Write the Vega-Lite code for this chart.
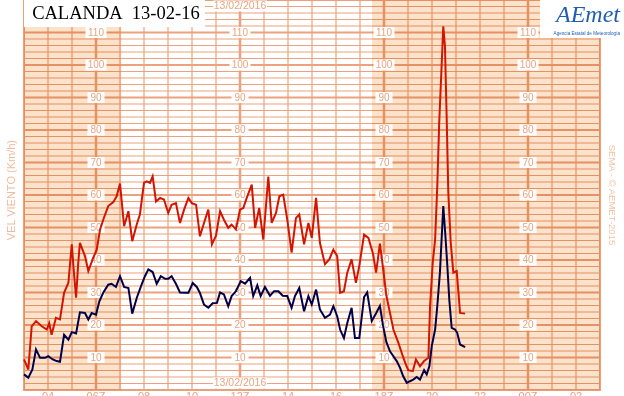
{
  "$schema": "https://vega.github.io/schema/vega-lite/v6.json",
  "width": 576,
  "height": 390,
  "autosize": "none",
  "padding": {"left": 24, "top": 0, "right": 24, "bottom": 6},
  "background": "white",
  "config": {
    "view": {"stroke": "#e89e78", "strokeWidth": 2},
    "axis": {"disable": true},
    "font": "Liberation Sans"
  },
  "datasets": {
    "wind": [
      {"h":3.00,"v":9.4,"s":"r"},{"h":3.18,"v":6.3,"s":"r"},{"h":3.32,"v":19.6,"s":"r"},{"h":3.50,"v":21.2,"s":"r"},{"h":3.74,"v":19.6,"s":"r"},{"h":3.95,"v":18.6,"s":"r"},{"h":4.05,"v":20.6,"s":"r"},{"h":4.15,"v":17.0,"s":"r"},{"h":4.33,"v":22.2,"s":"r"},{"h":4.50,"v":21.7,"s":"r"},{"h":4.67,"v":29.9,"s":"r"},{"h":4.85,"v":33.0,"s":"r"},{"h":4.99,"v":44.8,"s":"r"},{"h":5.08,"v":36.1,"s":"r"},{"h":5.17,"v":28.4,"s":"r"},{"h":5.26,"v":39.1,"s":"r"},{"h":5.33,"v":45.3,"s":"r"},{"h":5.54,"v":41.2,"s":"r"},{"h":5.68,"v":36.6,"s":"r"},{"h":5.86,"v":40.2,"s":"r"},{"h":6.03,"v":43.2,"s":"r"},{"h":6.17,"v":49.4,"s":"r"},{"h":6.33,"v":53.0,"s":"r"},{"h":6.51,"v":56.6,"s":"r"},{"h":6.72,"v":57.8,"s":"r"},{"h":6.86,"v":59.6,"s":"r"},{"h":7.00,"v":63.5,"s":"r"},{"h":7.17,"v":50.4,"s":"r"},{"h":7.35,"v":55.0,"s":"r"},{"h":7.51,"v":45.8,"s":"r"},{"h":7.70,"v":51.0,"s":"r"},{"h":7.83,"v":54.0,"s":"r"},{"h":8.00,"v":63.7,"s":"r"},{"h":8.11,"v":64.2,"s":"r"},{"h":8.25,"v":63.7,"s":"r"},{"h":8.36,"v":65.7,"s":"r"},{"h":8.50,"v":58.0,"s":"r"},{"h":8.67,"v":59.1,"s":"r"},{"h":8.83,"v":58.6,"s":"r"},{"h":9.01,"v":54.5,"s":"r"},{"h":9.15,"v":57.0,"s":"r"},{"h":9.33,"v":57.5,"s":"r"},{"h":9.50,"v":51.4,"s":"r"},{"h":9.67,"v":55.5,"s":"r"},{"h":9.85,"v":59.1,"s":"r"},{"h":9.99,"v":57.5,"s":"r"},{"h":10.17,"v":57.0,"s":"r"},{"h":10.33,"v":47.3,"s":"r"},{"h":10.50,"v":51.4,"s":"r"},{"h":10.68,"v":55.5,"s":"r"},{"h":10.83,"v":44.8,"s":"r"},{"h":11.00,"v":47.5,"s":"r"},{"h":11.17,"v":55.0,"s":"r"},{"h":11.33,"v":52.4,"s":"r"},{"h":11.51,"v":49.9,"s":"r"},{"h":11.65,"v":50.9,"s":"r"},{"h":11.83,"v":49.4,"s":"r"},{"h":12.00,"v":55.5,"s":"r"},{"h":12.14,"v":56.0,"s":"r"},{"h":12.28,"v":59.1,"s":"r"},{"h":12.49,"v":63.2,"s":"r"},{"h":12.63,"v":49.9,"s":"r"},{"h":12.80,"v":56.0,"s":"r"},{"h":12.97,"v":46.3,"s":"r"},{"h":13.18,"v":65.7,"s":"r"},{"h":13.32,"v":51.4,"s":"r"},{"h":13.50,"v":54.5,"s":"r"},{"h":13.64,"v":59.6,"s":"r"},{"h":13.80,"v":60.1,"s":"r"},{"h":13.97,"v":52.4,"s":"r"},{"h":14.15,"v":42.3,"s":"r"},{"h":14.33,"v":52.9,"s":"r"},{"h":14.47,"v":54.0,"s":"r"},{"h":14.67,"v":44.8,"s":"r"},{"h":14.85,"v":51.4,"s":"r"},{"h":14.99,"v":46.8,"s":"r"},{"h":15.17,"v":59.1,"s":"r"},{"h":15.33,"v":45.3,"s":"r"},{"h":15.54,"v":38.7,"s":"r"},{"h":15.72,"v":40.2,"s":"r"},{"h":15.89,"v":43.2,"s":"r"},{"h":16.05,"v":41.2,"s":"r"},{"h":16.17,"v":29.9,"s":"r"},{"h":16.33,"v":30.4,"s":"r"},{"h":16.47,"v":36.1,"s":"r"},{"h":16.65,"v":40.2,"s":"r"},{"h":16.83,"v":33.0,"s":"r"},{"h":16.97,"v":38.2,"s":"r"},{"h":17.17,"v":47.8,"s":"r"},{"h":17.35,"v":46.8,"s":"r"},{"h":17.54,"v":42.0,"s":"r"},{"h":17.67,"v":36.1,"s":"r"},{"h":17.83,"v":45.0,"s":"r"},{"h":17.96,"v":37.5,"s":"r"},{"h":18.10,"v":29.0,"s":"r"},{"h":18.25,"v":23.7,"s":"r"},{"h":18.39,"v":18.6,"s":"r"},{"h":18.60,"v":14.5,"s":"r"},{"h":18.74,"v":11.4,"s":"r"},{"h":18.88,"v":8.4,"s":"r"},{"h":19.01,"v":6.1,"s":"r"},{"h":19.20,"v":5.8,"s":"r"},{"h":19.33,"v":9.4,"s":"r"},{"h":19.50,"v":7.3,"s":"r"},{"h":19.67,"v":8.9,"s":"r"},{"h":19.85,"v":9.9,"s":"r"},{"h":19.92,"v":25.8,"s":"r"},{"h":20.03,"v":39.1,"s":"r"},{"h":20.13,"v":46.3,"s":"r"},{"h":20.22,"v":62.7,"s":"r"},{"h":20.30,"v":82.2,"s":"r"},{"h":20.40,"v":99.6,"s":"r"},{"h":20.47,"v":111.9,"s":"r"},{"h":20.54,"v":105.8,"s":"r"},{"h":20.61,"v":84.2,"s":"r"},{"h":20.68,"v":60.7,"s":"r"},{"h":20.78,"v":45.3,"s":"r"},{"h":20.89,"v":36.1,"s":"r"},{"h":21.03,"v":36.6,"s":"r"},{"h":21.17,"v":23.7,"s":"r"},{"h":21.38,"v":23.5,"s":"r"},
      {"h":3.00,"v":4.8,"s":"m"},{"h":3.18,"v":3.8,"s":"m"},{"h":3.35,"v":6.3,"s":"m"},{"h":3.50,"v":12.5,"s":"m"},{"h":3.67,"v":9.9,"s":"m"},{"h":3.88,"v":9.9,"s":"m"},{"h":4.01,"v":10.4,"s":"m"},{"h":4.20,"v":9.4,"s":"m"},{"h":4.36,"v":8.9,"s":"m"},{"h":4.50,"v":8.7,"s":"m"},{"h":4.67,"v":17.0,"s":"m"},{"h":4.85,"v":15.5,"s":"m"},{"h":4.99,"v":17.8,"s":"m"},{"h":5.17,"v":17.4,"s":"m"},{"h":5.33,"v":23.9,"s":"m"},{"h":5.54,"v":23.7,"s":"m"},{"h":5.68,"v":21.7,"s":"m"},{"h":5.82,"v":23.7,"s":"m"},{"h":6.00,"v":23.2,"s":"m"},{"h":6.14,"v":27.3,"s":"m"},{"h":6.30,"v":29.9,"s":"m"},{"h":6.51,"v":32.4,"s":"m"},{"h":6.65,"v":32.7,"s":"m"},{"h":6.83,"v":31.7,"s":"m"},{"h":7.00,"v":35.0,"s":"m"},{"h":7.17,"v":31.7,"s":"m"},{"h":7.35,"v":31.4,"s":"m"},{"h":7.51,"v":23.5,"s":"m"},{"h":7.70,"v":28.4,"s":"m"},{"h":7.90,"v":32.4,"s":"m"},{"h":8.04,"v":35.0,"s":"m"},{"h":8.18,"v":37.1,"s":"m"},{"h":8.36,"v":36.3,"s":"m"},{"h":8.53,"v":32.7,"s":"m"},{"h":8.70,"v":35.0,"s":"m"},{"h":8.88,"v":34.2,"s":"m"},{"h":9.01,"v":34.2,"s":"m"},{"h":9.15,"v":35.0,"s":"m"},{"h":9.33,"v":32.7,"s":"m"},{"h":9.50,"v":30.0,"s":"m"},{"h":9.71,"v":29.9,"s":"m"},{"h":9.85,"v":29.9,"s":"m"},{"h":10.03,"v":32.9,"s":"m"},{"h":10.20,"v":31.7,"s":"m"},{"h":10.33,"v":29.9,"s":"m"},{"h":10.50,"v":26.3,"s":"m"},{"h":10.68,"v":25.3,"s":"m"},{"h":10.86,"v":26.7,"s":"m"},{"h":11.04,"v":26.8,"s":"m"},{"h":11.17,"v":30.0,"s":"m"},{"h":11.33,"v":29.4,"s":"m"},{"h":11.51,"v":25.8,"s":"m"},{"h":11.65,"v":28.9,"s":"m"},{"h":11.83,"v":30.4,"s":"m"},{"h":12.03,"v":33.5,"s":"m"},{"h":12.21,"v":32.7,"s":"m"},{"h":12.42,"v":34.5,"s":"m"},{"h":12.55,"v":28.9,"s":"m"},{"h":12.72,"v":32.2,"s":"m"},{"h":12.86,"v":28.9,"s":"m"},{"h":13.04,"v":31.7,"s":"m"},{"h":13.25,"v":29.0,"s":"m"},{"h":13.42,"v":30.4,"s":"m"},{"h":13.60,"v":30.4,"s":"m"},{"h":13.78,"v":29.0,"s":"m"},{"h":13.97,"v":28.9,"s":"m"},{"h":14.15,"v":25.3,"s":"m"},{"h":14.29,"v":28.9,"s":"m"},{"h":14.47,"v":31.4,"s":"m"},{"h":14.67,"v":24.2,"s":"m"},{"h":14.85,"v":28.9,"s":"m"},{"h":14.99,"v":26.3,"s":"m"},{"h":15.17,"v":30.9,"s":"m"},{"h":15.33,"v":24.8,"s":"m"},{"h":15.54,"v":22.2,"s":"m"},{"h":15.75,"v":23.2,"s":"m"},{"h":15.89,"v":25.8,"s":"m"},{"h":16.05,"v":22.7,"s":"m"},{"h":16.17,"v":18.6,"s":"m"},{"h":16.33,"v":16.0,"s":"m"},{"h":16.47,"v":20.6,"s":"m"},{"h":16.65,"v":25.3,"s":"m"},{"h":16.79,"v":16.0,"s":"m"},{"h":16.97,"v":16.0,"s":"m"},{"h":17.17,"v":28.6,"s":"m"},{"h":17.30,"v":30.0,"s":"m"},{"h":17.49,"v":21.2,"s":"m"},{"h":17.67,"v":23.6,"s":"m"},{"h":17.83,"v":25.9,"s":"m"},{"h":17.96,"v":19.8,"s":"m"},{"h":18.10,"v":14.7,"s":"m"},{"h":18.25,"v":11.9,"s":"m"},{"h":18.39,"v":10.4,"s":"m"},{"h":18.53,"v":8.9,"s":"m"},{"h":18.67,"v":6.8,"s":"m"},{"h":18.80,"v":4.2,"s":"m"},{"h":18.95,"v":2.2,"s":"m"},{"h":19.08,"v":2.7,"s":"m"},{"h":19.22,"v":3.2,"s":"m"},{"h":19.36,"v":4.0,"s":"m"},{"h":19.50,"v":3.2,"s":"m"},{"h":19.67,"v":6.1,"s":"m"},{"h":19.78,"v":4.8,"s":"m"},{"h":19.89,"v":7.3,"s":"m"},{"h":19.99,"v":13.5,"s":"m"},{"h":20.13,"v":18.6,"s":"m"},{"h":20.22,"v":25.8,"s":"m"},{"h":20.33,"v":36.1,"s":"m"},{"h":20.40,"v":46.3,"s":"m"},{"h":20.47,"v":56.6,"s":"m"},{"h":20.55,"v":48.4,"s":"m"},{"h":20.64,"v":38.1,"s":"m"},{"h":20.72,"v":27.8,"s":"m"},{"h":20.82,"v":19.1,"s":"m"},{"h":20.96,"v":18.6,"s":"m"},{"h":21.05,"v":17.6,"s":"m"},{"h":21.17,"v":14.0,"s":"m"},{"h":21.38,"v":13.2,"s":"m"}
    ],
    "gridh": [
      {"h":3},{"h":4},{"h":5},{"h":6},{"h":7},{"h":8},{"h":9},{"h":10},{"h":11},{"h":12},{"h":13},{"h":14},{"h":15},{"h":16},{"h":17},{"h":18},{"h":19},{"h":20},{"h":21},{"h":22},{"h":23},{"h":24},{"h":25},{"h":26},{"h":27}
    ],
    "gridv": [
      {"v":0},{"v":2},{"v":4},{"v":6},{"v":8},{"v":10},{"v":12},{"v":14},{"v":16},{"v":18},{"v":20},{"v":22},{"v":24},{"v":26},{"v":28},{"v":30},{"v":32},{"v":34},{"v":36},{"v":38},{"v":40},{"v":42},{"v":44},{"v":46},{"v":48},{"v":50},{"v":52},{"v":54},{"v":56},{"v":58},{"v":60},{"v":62},{"v":64},{"v":66},{"v":68},{"v":70},{"v":72},{"v":74},{"v":76},{"v":78},{"v":80},{"v":82},{"v":84},{"v":86},{"v":88},{"v":90},{"v":92},{"v":94},{"v":96},{"v":98},{"v":100},{"v":102},{"v":104},{"v":106},{"v":108},{"v":110},{"v":112},{"v":114},{"v":116},{"v":118},{"v":120}
    ],
    "xlabels": [
      {"h":4,"t":"04"},{"h":6,"t":"06Z"},{"h":8,"t":"08"},{"h":10,"t":"10"},{"h":12,"t":"12Z"},{"h":14,"t":"14"},{"h":16,"t":"16"},{"h":18,"t":"18Z"},{"h":20,"t":"20"},{"h":22,"t":"22"},{"h":24,"t":"00Z"},{"h":26,"t":"02"}
    ],
    "ylabels": [
      {"h":6,"v":10},{"h":6,"v":20},{"h":6,"v":30},{"h":6,"v":40},{"h":6,"v":50},{"h":6,"v":60},{"h":6,"v":70},{"h":6,"v":80},{"h":6,"v":90},{"h":6,"v":100},{"h":6,"v":110},
      {"h":12,"v":10},{"h":12,"v":20},{"h":12,"v":30},{"h":12,"v":40},{"h":12,"v":50},{"h":12,"v":60},{"h":12,"v":70},{"h":12,"v":80},{"h":12,"v":90},{"h":12,"v":100},{"h":12,"v":110},
      {"h":18,"v":10},{"h":18,"v":20},{"h":18,"v":30},{"h":18,"v":40},{"h":18,"v":50},{"h":18,"v":60},{"h":18,"v":70},{"h":18,"v":80},{"h":18,"v":90},{"h":18,"v":100},{"h":18,"v":110},
      {"h":24,"v":10},{"h":24,"v":20},{"h":24,"v":30},{"h":24,"v":40},{"h":24,"v":50},{"h":24,"v":60},{"h":24,"v":70},{"h":24,"v":80},{"h":24,"v":90},{"h":24,"v":100},{"h":24,"v":110}
    ]
  },
  "layer": [
    {
      "data": {"name": "gridh"},
      "mark": {"type": "rule", "color": "#eba27d", "strokeWidth": 1.2},
      "encoding": {
        "x": {"field": "h", "type": "quantitative", "scale": {"domain": [3, 27], "nice": false, "zero": false}}
      }
    },
    {
      "data": {"name": "gridv"},
      "mark": {"type": "rule", "color": "#eba27d", "strokeWidth": 1.2},
      "encoding": {
        "y": {"field": "v", "type": "quantitative", "scale": {"domain": [0, 120], "nice": false, "zero": false}}
      }
    },
    {
      "data": {"name": "gridh"},
      "transform": [{"filter": "datum.h % 6 === 0"}],
      "mark": {"type": "rule", "color": "#eba27d", "strokeWidth": 2.5},
      "encoding": {
        "x": {"field": "h", "type": "quantitative"}
      }
    },
    {
      "data": {"name": "gridv"},
      "transform": [{"filter": "datum.v % 10 === 0 && datum.v > 0 && datum.v < 120"}],
      "mark": {"type": "rule", "color": "#eba27d", "strokeWidth": 2.2},
      "encoding": {
        "y": {"field": "v", "type": "quantitative"}
      }
    },
    {
      "data": {"values": [{"h":3,"h2":7.05,"v":0,"v2":120},{"h":17.5,"h2":27,"v":0,"v2":120}]},
      "mark": {"type": "rect", "fill": "#fbe2ca", "blend": "multiply"},
      "encoding": {
        "x": {"field": "h", "type": "quantitative"},
        "x2": {"field": "h2"},
        "y": {"field": "v", "type": "quantitative"},
        "y2": {"field": "v2"}
      }
    },
    {
      "data": {"name": "ylabels"},
      "transform": [{"filter": "datum.v < 100"}],
      "mark": {"type": "rect", "fill": "white", "xOffset": -8.5, "x2Offset": 8.5, "yOffset": -5.5, "y2Offset": 5.5},
      "encoding": {
        "x": {"field": "h", "type": "quantitative"},
        "x2": {"field": "h"},
        "y": {"field": "v", "type": "quantitative"},
        "y2": {"field": "v"}
      }
    },
    {
      "data": {"name": "ylabels"},
      "transform": [{"filter": "datum.v >= 100"}],
      "mark": {"type": "rect", "fill": "white", "xOffset": -10.5, "x2Offset": 10.5, "yOffset": -5.5, "y2Offset": 5.5},
      "encoding": {
        "x": {"field": "h", "type": "quantitative"},
        "x2": {"field": "h"},
        "y": {"field": "v", "type": "quantitative"},
        "y2": {"field": "v"}
      }
    },
    {
      "data": {"name": "ylabels"},
      "mark": {"type": "text", "font": "Liberation Sans", "fontSize": 10, "color": "#e9a480", "align": "center", "baseline": "middle"},
      "encoding": {
        "x": {"field": "h", "type": "quantitative"},
        "y": {"field": "v", "type": "quantitative"},
        "text": {"field": "v", "type": "quantitative"}
      }
    },
    {
      "data": {"values": [{"h":12,"v":2.15,"t":"13/02/2016"},{"h":12,"v":118.15,"t":"13/02/2016"}]},
      "mark": {"type": "rect", "fill": "white", "xOffset": -27, "x2Offset": 27, "yOffset": -5.5, "y2Offset": 5.5},
      "encoding": {
        "x": {"field": "h", "type": "quantitative"},
        "x2": {"field": "h"},
        "y": {"field": "v", "type": "quantitative"},
        "y2": {"field": "v"}
      }
    },
    {
      "data": {"values": [{"h":12,"v":2.15,"t":"13/02/2016"},{"h":12,"v":118.15,"t":"13/02/2016"}]},
      "mark": {"type": "text", "font": "Liberation Sans", "fontSize": 10.5, "color": "#e9a480", "align": "center", "baseline": "middle"},
      "encoding": {
        "x": {"field": "h", "type": "quantitative"},
        "y": {"field": "v", "type": "quantitative"},
        "text": {"field": "t"}
      }
    },
    {
      "data": {"name": "wind"},
      "mark": {"type": "line", "strokeWidth": 2},
      "encoding": {
        "x": {"field": "h", "type": "quantitative"},
        "y": {"field": "v", "type": "quantitative"},
        "color": {"field": "s", "type": "nominal", "scale": {"domain": ["r", "m"], "range": ["#d21400", "#00004a"]}, "legend": null}
      }
    },
    {
      "data": {"values": [{"h":3,"h2":10.54,"v":111.7,"v2":120},{"h":24.5,"h2":28,"v":108.3,"v2":120}]},
      "mark": {"type": "rect", "fill": "white"},
      "encoding": {
        "x": {"field": "h", "type": "quantitative"},
        "x2": {"field": "h2"},
        "y": {"field": "v", "type": "quantitative"},
        "y2": {"field": "v2"}
      }
    },
    {
      "data": {"values": [{"h":6.83,"v":114.15,"t":"CALANDA\u00a0\u00a013-02-16"}]},
      "mark": {"type": "text", "font": "Liberation Serif", "fontSize": 18.5, "color": "#000000", "align": "center", "baseline": "alphabetic"},
      "encoding": {
        "x": {"field": "h", "type": "quantitative"},
        "y": {"field": "v", "type": "quantitative"},
        "text": {"field": "t"}
      }
    },
    {
      "data": {"values": [{"h":26.5,"v":113.3,"t":"AEmet"}]},
      "mark": {"type": "text", "font": "Liberation Serif", "fontStyle": "italic", "fontSize": 24, "color": "#1f5db3", "align": "center", "baseline": "alphabetic"},
      "encoding": {
        "x": {"field": "h", "type": "quantitative"},
        "y": {"field": "v", "type": "quantitative"},
        "text": {"field": "t"}
      }
    },
    {
      "data": {"values": [{"h":26.45,"v":109.6,"t":"Agencia Estatal de Meteorología"}]},
      "mark": {"type": "text", "font": "Liberation Sans", "fontSize": 4.6, "color": "#1f5db3", "align": "center", "baseline": "middle"},
      "encoding": {
        "x": {"field": "h", "type": "quantitative"},
        "y": {"field": "v", "type": "quantitative"},
        "text": {"field": "t"}
      }
    },
    {
      "data": {"values": [{"h":2.5,"v":61.5,"t":"VEL VIENTO (Km/h)"}]},
      "mark": {"type": "text", "font": "Liberation Sans", "fontSize": 11, "color": "#f0b99b", "align": "center", "baseline": "middle", "angle": 270},
      "encoding": {
        "x": {"field": "h", "type": "quantitative"},
        "y": {"field": "v", "type": "quantitative"},
        "text": {"field": "t"}
      }
    },
    {
      "data": {"values": [{"h":27.49,"v":60,"t":"SEMA - © AEMET-2015"}]},
      "mark": {"type": "text", "font": "Liberation Sans", "fontSize": 9.5, "color": "#f2c2a5", "align": "center", "baseline": "middle", "angle": 90},
      "encoding": {
        "x": {"field": "h", "type": "quantitative"},
        "y": {"field": "v", "type": "quantitative"},
        "text": {"field": "t"}
      }
    },
    {
      "data": {"name": "xlabels"},
      "mark": {"type": "text", "font": "Liberation Sans", "fontSize": 11, "color": "#e7a17d", "align": "center", "baseline": "top", "yOffset": 1},
      "encoding": {
        "x": {"field": "h", "type": "quantitative"},
        "y": {"datum": 0, "type": "quantitative"},
        "text": {"field": "t"}
      }
    }
  ]
}
